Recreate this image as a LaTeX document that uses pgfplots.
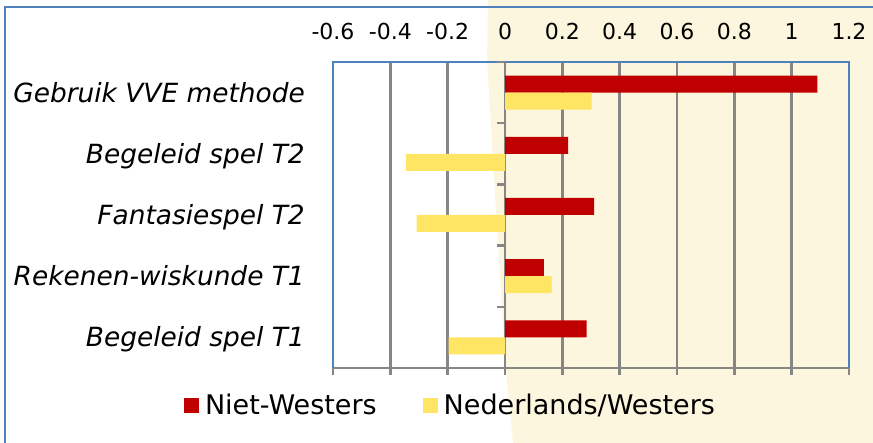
\documentclass[border=0pt]{standalone}
\usepackage{pgfplots}
\pgfplotsset{compat=1.18}
\usepackage{fontspec}
\setmainfont{DejaVu Sans}
\definecolor{cream}{RGB}{253,246,222}
\definecolor{frameblue}{RGB}{79,129,189}
\definecolor{gridgray}{RGB}{134,134,134}
\definecolor{nwred}{RGB}{192,0,0}
\definecolor{nlyellow}{RGB}{255,229,100}
\begin{document}
\begin{tikzpicture}[x=1pt,y=1pt]
\useasboundingbox (0,0) rectangle (873,443);
\fill[cream] (488,443) -- (487,383) -- (505,83) -- (513,0) -- (873,0) -- (873,443) -- cycle;
\draw[frameblue, line width=2pt] (5,-5) -- (5,436) -- (880,436);
\begin{axis}[
  at={(333pt,75pt)}, anchor=south west,
  scale only axis, width=516pt, height=306pt,
  xmin=-0.6, xmax=1.2, ymin=-0.5, ymax=4.5,
  xtick={-0.6,-0.4,-0.2,0,0.2,0.4,0.6,0.8,1,1.2},
  xticklabels={-0.6,-0.4,-0.2,0,0.2,0.4,0.6,0.8,1,1.2},
  xtick pos=lower, xticklabel pos=upper,
  xticklabel style={font=\fontsize{22}{26}\selectfont, anchor=base, yshift=15pt, inner sep=0pt},
  ytick={0,1,2,3,4},
  yticklabels={Begeleid spel T1, Rekenen-wiskunde T1, Fantasiespel T2, Begeleid spel T2, Gebruik VVE methode},
  yticklabel style={font=\fontsize{26.4}{31}\selectfont\itshape, anchor=base east, inner sep=0pt, xshift=-21pt, yshift=-9.5pt},
  tick align=outside, major tick length=7pt,
  every tick/.style={draw=gridgray, line width=2.5pt},
  y tick style={draw=none},
  xmajorgrids,
  every major grid/.style={draw=gridgray, line width=2.5pt},
  axis line style={draw=none},
  xbar, bar width=17pt,
  legend columns=2,
  legend style={at={(axis description cs:0.2277,-0.121)}, anchor=center, draw=none, fill=none,
    font=\fontsize{27}{32}\selectfont,
    /tikz/every even column/.append style={column sep=44pt}},
  after end axis/.code={
    \draw[gridgray, line width=2.5pt] (rel axis cs:0,0) -- (rel axis cs:1,0);
    \draw[gridgray, line width=2.5pt] (axis cs:0,0.5) -- ++(-8pt,0);
    \draw[gridgray, line width=2.5pt] (axis cs:0,1.5) -- ++(-8pt,0);
    \draw[gridgray, line width=2.5pt] (axis cs:0,2.5) -- ++(-8pt,0);
    \draw[gridgray, line width=2.5pt] (axis cs:0,3.5) -- ++(-8pt,0);
    \draw[frameblue, line width=2pt] (rel axis cs:0,0) -- (rel axis cs:0,1) -- (rel axis cs:1,1) -- (rel axis cs:1,0);
    \draw[gridgray, line width=2.5pt] (axis cs:0,4.5) -- ++(-8pt,0);
  },
]
\addplot[fill=nwred, draw=none, bar shift=8.5pt,
  legend image code/.code={\fill[nwred] (0pt,-7.5pt) rectangle (15pt,7.5pt); \path (19pt,0pt);}]
  coordinates {(1.09,4) (0.22,3) (0.311,2) (0.136,1) (0.285,0)};
\addplot[fill=nlyellow, draw=none, bar shift=-8.5pt,
  legend image code/.code={\fill[nlyellow] (0pt,-7.5pt) rectangle (15pt,7.5pt); \path (19pt,0pt);}]
  coordinates {(0.302,4) (-0.346,3) (-0.308,2) (0.163,1) (-0.197,0)};
\legend{Niet-Westers, Nederlands/Westers}
\end{axis}
\end{tikzpicture}
\end{document}
